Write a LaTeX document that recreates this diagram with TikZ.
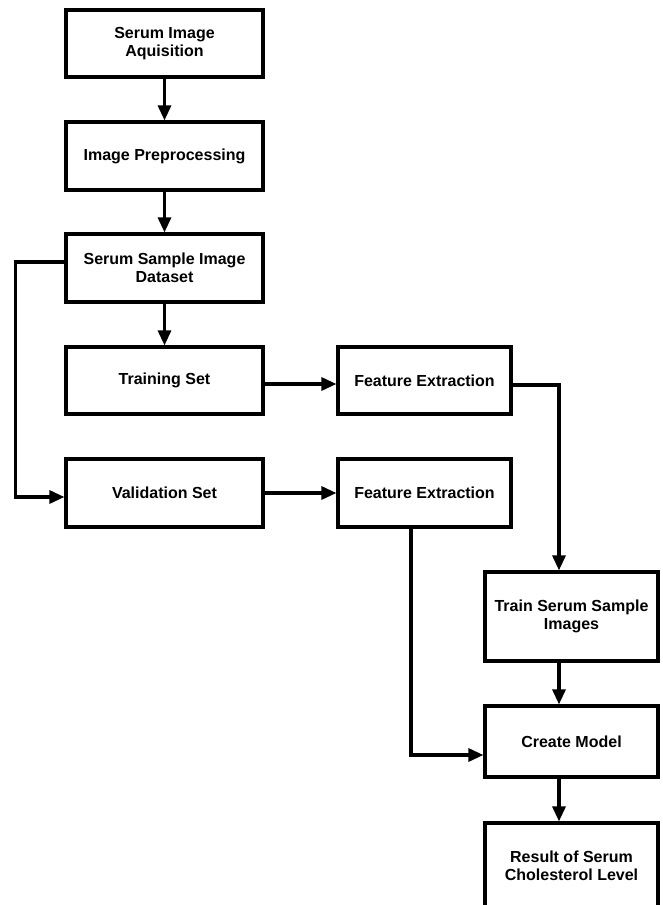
\documentclass[tikz,border=0pt]{standalone}
\usepackage{fontspec}
\setmainfont{Liberation Sans}
\usetikzlibrary{arrows.meta}

\begin{document}
\begin{tikzpicture}[x=1pt, y=-1pt,
    stage/.style={draw, line width=3.2pt, align=center, inner sep=0pt,
      minimum width=197pt, font=\fontsize{16}{18}\selectfont\bfseries},
    narrow/.style={minimum width=173pt},
    flow/.style={line width=3.2pt, -{Triangle[length=15pt, width=13pt]}}]
    \clip (0,0) rectangle (663,905);

    % Left column
    \node[stage, minimum height=67pt] (acq) at (164.5,43.5) {Serum Image\\Aquisition};
    \node[stage, minimum height=68pt] (pre) at (164.5,156) {Image Preprocessing};
    \node[stage, minimum height=68pt] (data) at (164.5,268) {Serum Sample Image\\Dataset};
    \node[stage, minimum height=67pt] (train) at (164.5,380.5) {Training Set};
    \node[stage, minimum height=68pt] (val) at (164.5,493) {Validation Set};

    % Feature extraction
    \node[stage, narrow, minimum height=67pt] (fetrain) at (424.5,380.5) {Feature Extraction};
    \node[stage, narrow, minimum height=68pt] (feval) at (424.5,493) {Feature Extraction};

    % Right column
    \node[stage, narrow, minimum height=89pt] (tss) at (571.5,616.5) {Train Serum Sample\\Images};
    \node[stage, narrow, minimum height=71pt] (model) at (571.5,741.5) {Create Model};
    \node[stage, narrow, minimum height=86pt] (result) at (571.5,866) {Result of Serum\\Cholesterol Level};

    % Arrows
    \draw[flow] (acq) -- (pre);
    \draw[flow] (pre) -- (data);
    \draw[flow] (data) -- (train);
    \draw[flow] ([yshift=6pt]data.west) -- ++(-49,0) |- ([yshift=-4pt]val.west);
    \draw[flow] ([yshift=-3.5pt]train.east) -- ([yshift=-3.5pt]fetrain.west);
    \draw[flow] (val) -- (feval);
    \draw[flow] ([yshift=-4.5pt]fetrain.east) -| ([xshift=-12.5pt]tss.north);
    \draw[flow] ([xshift=-13.5pt]feval.south) |- ([yshift=-13.5pt]model.west);
    \draw[flow] ([xshift=-12.5pt]tss.south) -- ([xshift=-12.5pt]model.north);
    \draw[flow] ([xshift=-12.5pt]model.south) -- ([xshift=-12.5pt]result.north);
\end{tikzpicture}
\end{document}
